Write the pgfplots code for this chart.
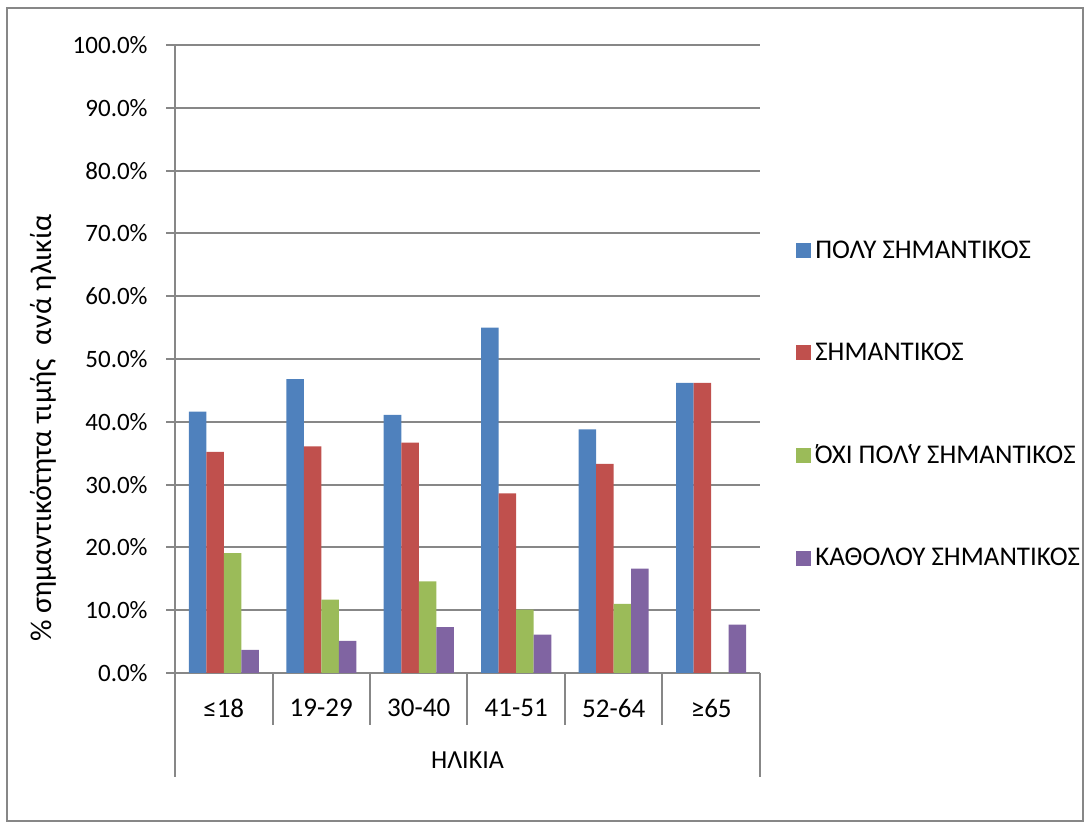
\documentclass[border=0pt]{standalone}
\usepackage{pgfplots}
\pgfplotsset{compat=1.18}
\usepackage{fontspec}
\setmainfont{Carlito}
\definecolor{cblue}{HTML}{4F81BD}
\definecolor{cred}{HTML}{C0504D}
\definecolor{cgreen}{HTML}{9BBB59}
\definecolor{cpurple}{HTML}{8064A2}
\definecolor{cgrid}{HTML}{878787}
\newcommand{\tonos}{\kern-0.12em΄\kern-0.22em}
\begin{document}
\begin{tikzpicture}
\path[use as bounding box] (0,0) rectangle (545.5pt,411.5pt);
\draw[cgrid, line width=0.6pt] (3.5pt,1pt) rectangle (541.5pt,407.5pt);
\begin{axis}[
  at={(87.5pt,75pt)}, anchor=south west,
  scale only axis, width=292.5pt, height=314pt,
  font=\fontsize{12.5pt}{15pt}\selectfont,
  ybar=0pt, bar width=8.75pt,
  xmin=-0.5, xmax=5.5, ymin=0, ymax=100,
  enlarge x limits=false,
  axis x line*=bottom, axis y line*=left,
  axis line style={cgrid, line width=1pt, -},
  xtick=data,
  xticklabels={≤18,19-29,30-40,41-51,52-64,≥65},
  x tick style={draw=none},
  xticklabel style={anchor=center, yshift=-13pt, font=\fontsize{13.5pt}{16pt}\selectfont},
  ytick={0,10,...,100},
  yticklabel={\pgfmathprintnumber[fixed,fixed zerofill,precision=1,assume math mode=true]{\tick}\%},
  y tick style={cgrid, line width=1pt},
  tick align=outside, major tick length=4.5pt,
  yticklabel style={anchor=east, inner sep=0pt, xshift=-9pt},
  ymajorgrids, grid style={cgrid, line width=1pt},
  xlabel={ΗΛΙΚΙΑ},
  xlabel style={at={(axis description cs:0.5,-0.1385)}, anchor=center, font=\fontsize{13pt}{16pt}\selectfont},
  ylabel={\% σημαντικότητα τιμής\ \ ανά ηλικία},
  ylabel style={at={(axis description cs:-0.2256,0.39)}, anchor=center, font=\fontsize{15pt}{18pt}\selectfont},
  legend style={draw=none, fill=none, at={(axis description cs:1.0615,0.4276)}, anchor=west, inner sep=0pt, row sep=36.7pt, font=\fontsize{13.5pt}{16pt}\selectfont, cells={anchor=west}},
  clip=false,
]
\addplot[fill=cblue, draw=none, legend image code/.code={\fill[cblue] (0pt,-3.75pt) rectangle (7.5pt,3.75pt);}] coordinates {(0,41.6) (1,46.8) (2,41.1) (3,55.0) (4,38.8) (5,46.2)};
\addplot[fill=cred, draw=none, legend image code/.code={\fill[cred] (0pt,-3.75pt) rectangle (7.5pt,3.75pt);}] coordinates {(0,35.2) (1,36.1) (2,36.7) (3,28.6) (4,33.3) (5,46.2)};
\addplot[fill=cgreen, draw=none, legend image code/.code={\fill[cgreen] (0pt,-3.75pt) rectangle (7.5pt,3.75pt);}] coordinates {(0,19.1) (1,11.7) (2,14.6) (3,10.1) (4,11.0) (5,0)};
\addplot[fill=cpurple, draw=none, legend image code/.code={\fill[cpurple] (0pt,-3.75pt) rectangle (7.5pt,3.75pt);}] coordinates {(0,3.7) (1,5.1) (2,7.3) (3,6.1) (4,16.6) (5,7.7)};
\legend{ΠΟΛΥ ΣΗΜΑΝΤΙΚΟΣ, ΣΗΜΑΝΤΙΚΟΣ, \tonos ΟΧΙ ΠΟΛ\tonos Υ ΣΗΜΑΝΤΙΚΟΣ, ΚΑΘΟΛΟΥ ΣΗΜΑΝΤΙΚΟΣ}
\draw[cgrid, line width=1pt] (axis cs:0.5,0) -- ([yshift=-26pt]axis cs:0.5,0);
\draw[cgrid, line width=1pt] (axis cs:1.5,0) -- ([yshift=-26pt]axis cs:1.5,0);
\draw[cgrid, line width=1pt] (axis cs:2.5,0) -- ([yshift=-26pt]axis cs:2.5,0);
\draw[cgrid, line width=1pt] (axis cs:3.5,0) -- ([yshift=-26pt]axis cs:3.5,0);
\draw[cgrid, line width=1pt] (axis cs:4.5,0) -- ([yshift=-26pt]axis cs:4.5,0);
\draw[cgrid, line width=1pt] (axis cs:-0.5,0) -- ([yshift=-52pt]axis cs:-0.5,0);
\draw[cgrid, line width=1pt] (axis cs:5.5,0) -- ([yshift=-52pt]axis cs:5.5,0);
\end{axis}
\end{tikzpicture}
\end{document}
